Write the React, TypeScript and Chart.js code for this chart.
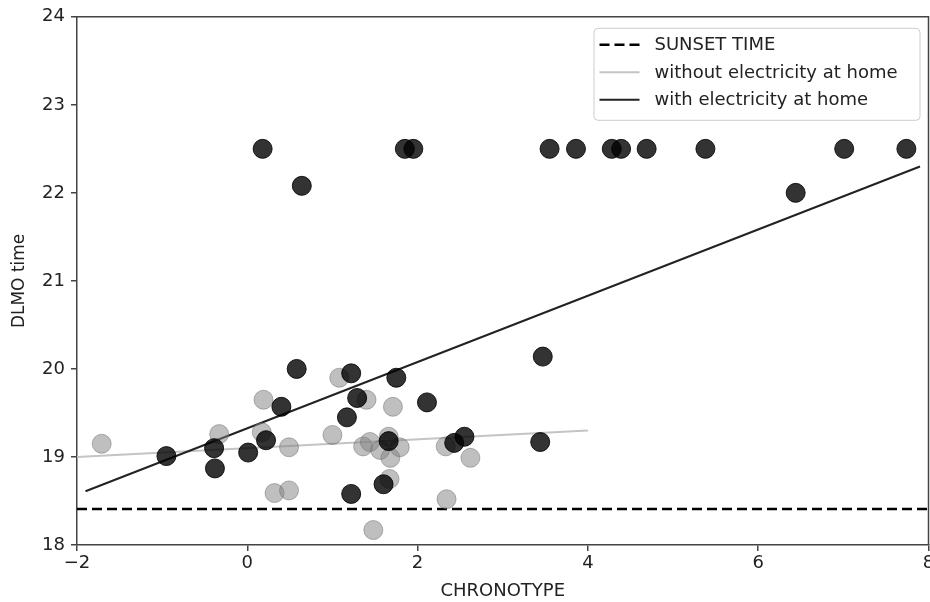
import React, { useEffect, useRef } from "react";
import { Chart, registerables } from "chart.js";

Chart.register(...registerables);

// ---- data ----
const xTickValues = [-2, 0, 2, 4, 6, 8];
const yTickValues = [18, 19, 20, 21, 22, 23, 24];

const sunsetX = [-2, 8];
const sunsetY = [18.41, 18.41];

const fitWithoutX = [-2, 4];
const fitWithoutY = [19.0, 19.3];

const fitWithX = [-1.9, 7.9];
const fitWithY = [18.61, 22.3];

const withElecX = [
  0.18, 1.85, 1.95, 3.55, 3.86, 4.28, 4.39, 4.69, 5.38, 7.01, 7.74,
  0.64, 6.44,
  0.58, 1.22, 1.75, 1.29, 0.4, 1.17, -0.95, -0.39, -0.38, 0.01, 0.22, 1.66, 1.6, 1.22,
  2.11, 3.47, 2.55, 2.43, 3.44,
];
const withElecY = [
  22.5, 22.5, 22.5, 22.5, 22.5, 22.5, 22.5, 22.5, 22.5, 22.5, 22.5,
  22.08, 22.0,
  20.0, 19.95, 19.9, 19.67, 19.57, 19.45, 19.01, 19.1, 18.87, 19.05, 19.19, 19.18, 18.69, 18.58,
  19.62, 20.14, 19.23, 19.16, 19.17,
];

const withoutElecX = [
  -1.71, -0.33, 0.19, 0.17, 0.49, 0.32, 0.49, 1.08, 1.4, 1.71, 1.0,
  1.36, 1.44, 1.56, 1.66, 1.79, 1.68, 1.67, 1.48, 2.33, 2.62, 2.34,
];
const withoutElecY = [
  19.15, 19.26, 19.65, 19.28, 19.11, 18.59, 18.62, 19.9, 19.65, 19.57, 19.25,
  19.12, 19.17, 19.08, 19.23, 19.11, 18.99, 18.75, 18.17, 19.12, 18.99, 18.52,
];

const legendLabels = ["SUNSET TIME", "without electricity at home", "with electricity at home"];

const zip = (xs: number[], ys: number[]) => xs.map((x, i) => ({ x, y: ys[i] }));

const FONT = "'DejaVu Sans', sans-serif";
const AXIS_COLOR = "#444";
const TEXT_COLOR = "#222";

const framePlugin = {
  id: "frame",
  afterDraw(chart: any) {
    const { ctx, chartArea } = chart;
    ctx.save();
    ctx.strokeStyle = AXIS_COLOR;
    ctx.lineWidth = 1.5;
    ctx.beginPath();
    ctx.moveTo(chartArea.left, chartArea.top);
    ctx.lineTo(chartArea.right, chartArea.top);
    ctx.lineTo(chartArea.right, chartArea.bottom);
    ctx.stroke();
    ctx.restore();
  },
};

const legendPlugin = {
  id: "boxLegend",
  afterDraw(chart: any) {
    const { ctx, chartArea } = chart;
    const right = chartArea.right - 9;
    const top = chartArea.top + 11;
    const w = 326;
    const h = 92;
    const left = right - w;
    ctx.save();
    ctx.fillStyle = "rgba(255,255,255,0.85)";
    ctx.strokeStyle = "#cccccc";
    ctx.lineWidth = 1;
    ctx.beginPath();
    (ctx as any).roundRect(left + 0.5, top + 0.5, w, h, 4);
    ctx.fill();
    ctx.stroke();

    const styles = [
      { color: "#000", dash: [10, 5], width: 2.5 },
      { color: "#c4c4c4", dash: [], width: 2 },
      { color: "#222", dash: [], width: 2 },
    ];
    ctx.font = `18px ${FONT}`;
    ctx.textBaseline = "middle";
    ctx.textAlign = "left";
    legendLabels.forEach((label, i) => {
      const y = top + 17 + i * 27.5;
      const s = styles[i];
      ctx.strokeStyle = s.color;
      ctx.lineWidth = s.width;
      ctx.setLineDash(s.dash);
      ctx.beginPath();
      ctx.moveTo(left + 6, y);
      ctx.lineTo(left + 46, y);
      ctx.stroke();
      ctx.setLineDash([]);
      ctx.fillStyle = TEXT_COLOR;
      ctx.fillText(label, left + 61, y + 1);
    });
    ctx.restore();
  },
};

export default function App() {
  const canvasRef = useRef<HTMLCanvasElement | null>(null);

  useEffect(() => {
    if (!canvasRef.current) return;
    const chart = new Chart(canvasRef.current, {
      type: "scatter",
      data: {
        datasets: [
          {
            type: "line",
            label: legendLabels[0],
            data: zip(sunsetX, sunsetY),
            borderColor: "#000",
            borderWidth: 2.5,
            borderDash: [10, 5],
            pointRadius: 0,
            order: 5,
          },
          {
            type: "line",
            label: legendLabels[1],
            data: zip(fitWithoutX, fitWithoutY),
            borderColor: "#c4c4c4",
            borderWidth: 2,
            pointRadius: 0,
            order: 4,
          },
          {
            type: "line",
            label: legendLabels[2],
            data: zip(fitWithX, fitWithY),
            borderColor: "#222",
            borderWidth: 2,
            pointRadius: 0,
            order: 3,
          },
          {
            label: "without points",
            data: zip(withoutElecX, withoutElecY),
            backgroundColor: "rgba(128,128,128,0.5)",
            borderColor: "rgba(110,110,110,0.5)",
            borderWidth: 1,
            pointRadius: 9.5,
            order: 2,
          },
          {
            label: "with points",
            data: zip(withElecX, withElecY),
            backgroundColor: "rgba(0,0,0,0.8)",
            borderColor: "rgba(0,0,0,0.85)",
            borderWidth: 1,
            pointRadius: 9.5,
            order: 1,
          },
        ],
      },
      options: {
        responsive: false,
        animation: false,
        layout: { padding: { left: 0, right: 3, top: 15, bottom: 0 } },
        plugins: {
          legend: { display: false },
          tooltip: { enabled: false },
        },
        scales: {
          x: {
            type: "linear",
            min: -2,
            max: 8,
            afterBuildTicks: (s: any) => {
              s.ticks = xTickValues.map((v) => ({ value: v }));
            },
            afterFit: (s: any) => {
              s.height = 57;
            },
            ticks: {
              color: TEXT_COLOR,
              font: { family: FONT, size: 18 },
              padding: 2,
              maxRotation: 0,
              callback: (v: any) => String(v).replace("-", "\u2212"),
            },
            grid: { drawOnChartArea: false, drawTicks: true, tickLength: 6, color: AXIS_COLOR, lineWidth: 1.5 },
            border: { display: true, color: AXIS_COLOR, width: 1.5 },
            title: {
              display: true,
              text: "CHRONOTYPE",
              color: TEXT_COLOR,
              font: { family: FONT, size: 18 },
              padding: { top: 0, bottom: 0 },
            },
          },
          y: {
            type: "linear",
            min: 18,
            max: 24,
            afterBuildTicks: (s: any) => {
              s.ticks = yTickValues.map((v) => ({ value: v }));
            },
            afterFit: (s: any) => {
              s.width = 77;
            },
            ticks: {
              color: TEXT_COLOR,
              font: { family: FONT, size: 18 },
              padding: 6,
            },
            grid: { drawOnChartArea: false, drawTicks: true, tickLength: 6, color: AXIS_COLOR, lineWidth: 1.5 },
            border: { display: true, color: AXIS_COLOR, width: 1.5 },
            title: {
              display: true,
              text: "DLMO time",
              color: TEXT_COLOR,
              font: { family: FONT, size: 17 },
              padding: { top: 9, bottom: 0 },
            },
          },
        },
      },
      plugins: [framePlugin, legendPlugin],
    } as any);
    return () => chart.destroy();
  }, []);

  return (
    <div
      style={{
        position: "absolute",
        left: 0,
        top: 0,
        width: 930,
        height: 602,
        overflow: "hidden",
        background: "#fff",
      }}
    >
      <canvas ref={canvasRef} width={939} height={602} style={{ display: "block" }} />
    </div>
  );
}
